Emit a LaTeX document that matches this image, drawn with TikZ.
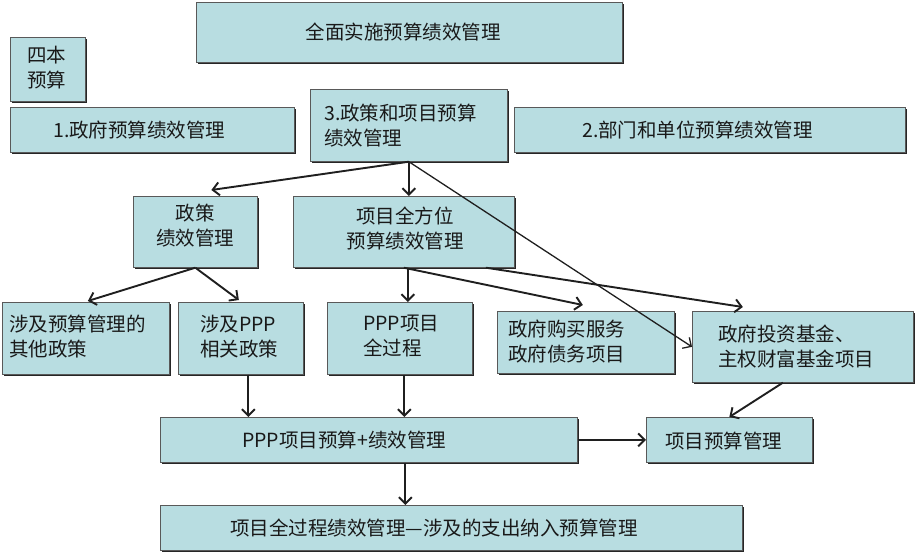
\documentclass[tikz,border=0pt]{standalone}
\usepackage{fontspec}
\setmainfont{Noto Sans CJK SC}
\usetikzlibrary{arrows.meta,shadows}
\definecolor{boxfill}{RGB}{184,221,225}
\tikzset{
  box/.style={draw=black!65, line width=0.7pt, fill=boxfill, anchor=north west, inner sep=0pt,
    drop shadow={shadow xshift=1.5pt, shadow yshift=-1.5pt, fill=black!85, opacity=1}},
  txt/.style={font=\fontsize{19.5pt}{25pt}\selectfont, inner sep=0pt, text=black!90, align=left},
  arr/.style={-{Straight Barb[length=6.5pt,width=13pt]}, line width=1.9pt, draw=black!88},
  thinarr/.style={arr, line width=1.3pt},
}
\newcommand\bx[5]{\node[box, minimum width={#4pt-#2pt}, minimum height={#5pt-#3pt}] (#1) at (#2,#3) {};}
\begin{document}
\begin{tikzpicture}[x=1pt,y=-1pt]
\useasboundingbox (0,0) rectangle (915,552);
% boxes
\bx{top}{196}{2}{622}{62}
\bx{four}{10}{37}{85}{101}
\bx{gb}{10}{107}{294}{152}
\bx{pp}{310}{89}{507}{161}
\bx{dept}{514}{107}{905}{152}
\bx{pol}{133}{196}{257}{267}
\bx{prj}{293}{196}{514}{267}
\bx{oth}{2}{302}{169}{374}
\bx{ppp}{178}{302}{303}{374}
\bx{full}{327}{302}{472}{374}
\bx{gov}{497}{311}{674}{373}
\bx{fund}{692}{311}{913}{382}
\bx{pppb}{160}{417}{577}{462}
\bx{pbm}{646}{417}{812}{462}
\bx{bot}{160}{505}{742}{550}
% texts
\node[txt] (t-top) at (403,32) {全面实施预算绩效管理};
\node[txt, anchor=west] (t-four) at (27,68) {四本\\预算};
\node[txt, anchor=west] (t-gb) at (53,130) {1.政府预算绩效管理};
\node[txt, anchor=west] (t-pp) at (324,126) {3.政策和项目预算\\绩效管理};
\node[txt, anchor=west] (t-dept) at (582,130) {2.部门和单位预算绩效管理};
\node[txt, align=center] (t-pol) at (195,226) {政策\\绩效管理};
\node[txt, align=center] (t-prj) at (405,229) {项目全方位\\预算绩效管理};
\node[txt, anchor=west] (t-oth) at (9,337) {涉及预算管理的\\其他政策};
\node[txt, anchor=west] (t-ppp) at (200,337) {涉及PPP\\相关政策};
\node[txt, anchor=west] (t-full) at (363,336) {PPP项目\\全过程};
\node[txt, anchor=west] (t-gov) at (508,342) {政府购买服务\\政府债务项目};
\node[txt, anchor=west] (t-fund) at (718,347) {政府投资基金、\\主权财富基金项目};
\node[txt, anchor=west] (t-pppb) at (242,440) {PPP项目预算+绩效管理};
\node[txt, anchor=west] (t-pbm) at (665,441) {项目预算管理};
\node[txt, anchor=west] (t-bot) at (230,528) {项目全过程绩效管理—涉及的支出纳入预算管理};
% connectors
\draw[arr] (pp.south) -- ([shift={(16,-6)}]pol.north);
\draw[arr] (pp.south) -- (pp.south |- prj.north);
\draw[thinarr] (pp.south) -- (fund.west);
\draw[arr] (pol.south) -- ([shift={(2,-1)}]oth.north);
\draw[arr] (pol.south) -- ([shift={(-2,-2)}]ppp.north);
\draw[arr] ([xshift=4pt]prj.south) -- ([xshift=4pt]prj.south |- full.north);
\draw[arr] (prj.south) -- ([shift={(-3,-6)}]gov.north);
\draw[arr] ([xshift=82pt]prj.south) -- ([shift={(-60,-4)}]fund.north);
\draw[arr] ([xshift=7.5pt]ppp.south) -- ([xshift=7.5pt]ppp.south |- pppb.north);
\draw[arr] ([xshift=4.5pt]full.south) -- ([xshift=4.5pt]full.south |- pppb.north);
\draw[arr] (pppb.east) -- (pbm.west);
\draw[arr] ([xshift=-20pt]fund.south) -- (pbm.north);
\draw[arr] ([xshift=36.5pt]pppb.south) -- ([xshift=36.5pt]pppb.south |- bot.north);
\end{tikzpicture}
\end{document}
